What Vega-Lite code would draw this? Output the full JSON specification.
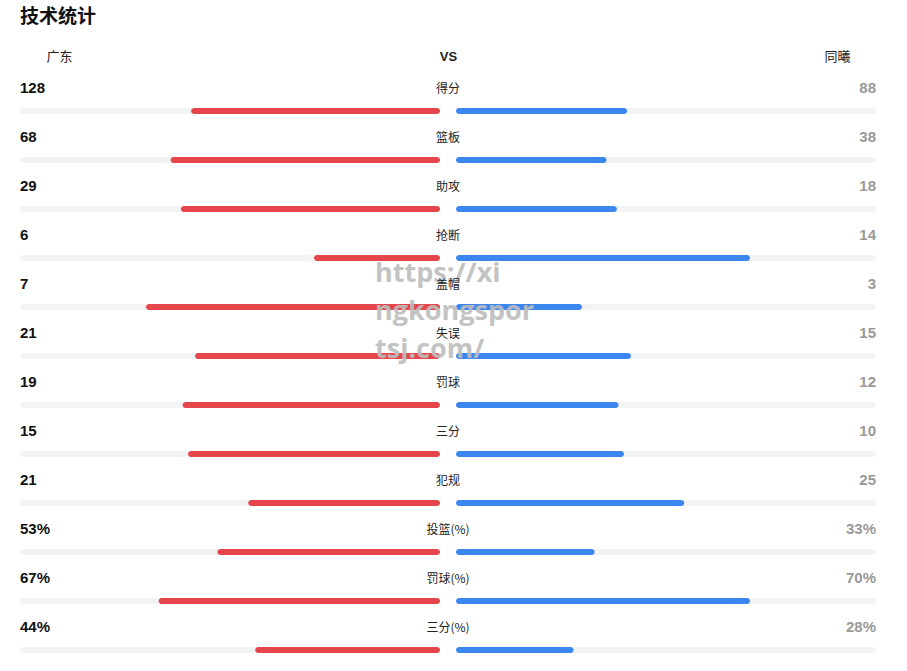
{
  "$schema": "https://vega.github.io/schema/vega-lite/v6.json",
  "width": 907,
  "height": 601,
  "autosize": "none",
  "padding": {"top": 70, "left": 0, "right": 0, "bottom": 0},
  "background": "white",
  "config": {"view": {"stroke": null}},
  "title": {
    "text": "技术统计",
    "anchor": "start",
    "frame": "group",
    "dx": 20,
    "offset": 23,
    "font": "Noto Sans CJK SC",
    "fontSize": 19,
    "fontWeight": "bold",
    "color": "#111111"
  },
  "data": {
    "values": [
      {"stat": "得分", "home": 128, "away": 88, "pct": false},
      {"stat": "篮板", "home": 68, "away": 38, "pct": false},
      {"stat": "助攻", "home": 29, "away": 18, "pct": false},
      {"stat": "抢断", "home": 6, "away": 14, "pct": false},
      {"stat": "盖帽", "home": 7, "away": 3, "pct": false},
      {"stat": "失误", "home": 21, "away": 15, "pct": false},
      {"stat": "罚球", "home": 19, "away": 12, "pct": false},
      {"stat": "三分", "home": 15, "away": 10, "pct": false},
      {"stat": "犯规", "home": 21, "away": 25, "pct": false},
      {"stat": "投篮(%)", "home": 53, "away": 33, "pct": true},
      {"stat": "罚球(%)", "home": 67, "away": 70, "pct": true},
      {"stat": "三分(%)", "home": 44, "away": 28, "pct": true}
    ]
  },
  "transform": [
    {"calculate": "datum.pct ? -datum.home / 100 : -datum.home / (datum.home + datum.away)", "as": "lneg"},
    {"calculate": "datum.pct ? datum.away / 100 : datum.away / (datum.home + datum.away)", "as": "rf"},
    {"calculate": "datum.pct ? datum.home + '%' : '' + datum.home", "as": "hl"},
    {"calculate": "datum.pct ? datum.away + '%' : '' + datum.away", "as": "al"},
    {"calculate": "-1", "as": "lo"},
    {"calculate": "0", "as": "mid"},
    {"calculate": "1", "as": "hi"}
  ],
  "encoding": {
    "y": {
      "field": "stat",
      "type": "nominal",
      "axis": null,
      "scale": {
        "type": "point",
        "padding": 0,
        "range": [41, 580],
        "domain": ["得分", "篮板", "助攻", "抢断", "盖帽", "失误", "罚球", "三分", "犯规", "投篮(%)", "罚球(%)", "三分(%)"]
      }
    }
  },
  "layer": [
    {
      "mark": {"type": "bar", "height": 6, "cornerRadius": 3, "color": "#f2f3f5", "xOffset": -8, "x2Offset": -8},
      "encoding": {
        "x": {
          "field": "lo",
          "type": "quantitative",
          "scale": {"domain": [-1, 1], "range": [28, 868], "nice": false, "zero": false},
          "axis": {
            "orient": "top",
            "values": [-0.926, 0, 0.926],
            "title": null,
            "domain": false,
            "ticks": false,
            "grid": false,
            "labelPadding": 7,
            "labelFont": "Liberation Sans, Noto Sans CJK SC",
            "labelFontSize": 13,
            "labelColor": "#222222",
            "labelAlign": "center",
            "labelExpr": "datum.value < 0 ? '广东' : (datum.value > 0 ? '同曦' : 'VS')",
            "labelFontWeight": {"condition": {"test": "datum.value == 0", "value": "bold"}, "value": "normal"},
            "labelOverlap": false,
            "labelBound": false,
            "labelFlush": false
          }
        },
        "x2": {"field": "mid"}
      }
    },
    {
      "mark": {"type": "bar", "height": 6, "cornerRadius": 3, "color": "#f2f3f5", "xOffset": 8, "x2Offset": 8},
      "encoding": {
        "x": {"field": "mid", "type": "quantitative"},
        "x2": {"field": "hi"}
      }
    },
    {
      "mark": {"type": "bar", "height": 6, "cornerRadius": 3, "color": "#e5454b", "xOffset": -8, "x2Offset": -8},
      "encoding": {
        "x": {"field": "lneg", "type": "quantitative"},
        "x2": {"field": "mid"}
      }
    },
    {
      "mark": {"type": "bar", "height": 6, "cornerRadius": 3, "color": "#3b87ef", "xOffset": 8, "x2Offset": 8},
      "encoding": {
        "x": {"field": "mid", "type": "quantitative"},
        "x2": {"field": "rf"}
      }
    },
    {
      "transform": [{"filter": "datum.stat == '失误'"}, {"calculate": "'https://xi\\nngkongspor\\ntsj.com/'", "as": "wm"}, {"calculate": "-0.1738", "as": "wx"}],
      "mark": {"type": "text", "align": "left", "baseline": "middle", "lineBreak": "\n", "lineHeight": 38, "dy": -82, "font": "Open Sans", "fontSize": 27, "fontWeight": "bold", "color": "#bdbdbd", "opacity": 0.9},
      "encoding": {
        "x": {"field": "wx", "type": "quantitative"},
        "text": {"field": "wm", "type": "nominal"}
      }
    },
    {
      "mark": {"type": "text", "align": "left", "baseline": "middle", "dy": -23, "xOffset": -8, "font": "Liberation Sans", "fontSize": 15, "fontWeight": "bold", "color": "#111111"},
      "encoding": {
        "x": {"field": "lo", "type": "quantitative"},
        "text": {"field": "hl", "type": "nominal"}
      }
    },
    {
      "mark": {"type": "text", "align": "right", "baseline": "middle", "dy": -23, "xOffset": 8, "font": "Liberation Sans", "fontSize": 15, "fontWeight": "bold", "color": "#999999"},
      "encoding": {
        "x": {"field": "hi", "type": "quantitative"},
        "text": {"field": "al", "type": "nominal"}
      }
    },
    {
      "mark": {"type": "text", "align": "center", "baseline": "middle", "dy": -22, "font": "Liberation Sans Narrow, Noto Sans CJK SC", "fontSize": 12, "color": "#222222"},
      "encoding": {
        "x": {"field": "mid", "type": "quantitative"},
        "text": {"field": "stat", "type": "nominal"}
      }
    }
  ]
}
